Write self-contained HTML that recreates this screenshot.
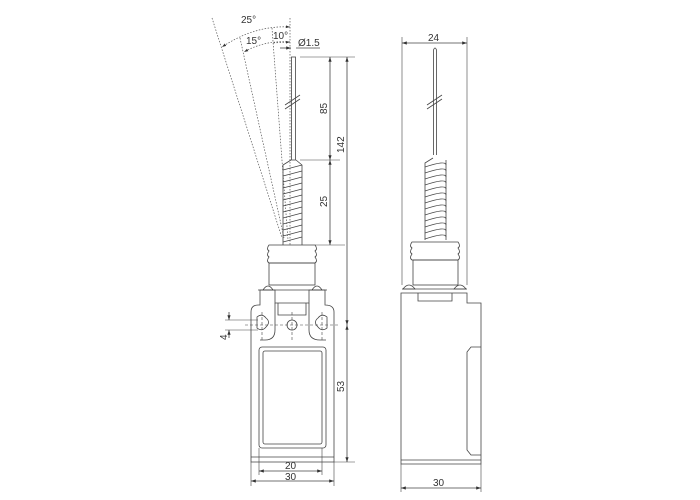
<!DOCTYPE html>
<html><head><style>html,body{margin:0;padding:0;background:#fff}svg{display:block}text{font-family:"Liberation Sans",sans-serif;font-size:10px;fill:#333}</style></head><body>
<svg width="700" height="500" viewBox="0 0 700 500" xmlns="http://www.w3.org/2000/svg">
<defs><marker id="a" viewBox="0 0 6 6" refX="6" refY="3" markerWidth="6" markerHeight="6" orient="auto-start-reverse"><path d="M0,1 L6,3 L0,5z" fill="#333"/></marker></defs>
<g fill="none" stroke="#444" stroke-width="0.8">
<!-- angle lines -->
<g stroke-dasharray="1.5,1.5" stroke="#555" stroke-width="0.7">
<line x1="290" y1="18" x2="290" y2="245"/>
<line x1="272" y1="28" x2="288" y2="240"/>
<line x1="240" y1="38" x2="284" y2="238"/>
<line x1="212" y1="18" x2="282" y2="238"/>
<path d="M290,27 Q255,25 222,47" marker-start="url(#a)" marker-end="url(#a)"/>
<path d="M290,42 Q265,40 244,52" marker-end="url(#a)"/>
<path d="M290,42 L272,43" marker-start="url(#a)"/>
</g>
<!-- Ø1.5 -->
<line x1="280" y1="48" x2="291" y2="48" marker-end="url(#a)"/>
<line x1="296" y1="48" x2="320" y2="48"/>
<!-- rod front -->
<rect x="291.5" y="57" width="4" height="103"/>
<line x1="285" y1="105" x2="300" y2="95"/><line x1="285" y1="109" x2="300" y2="99"/>
<!-- spring front -->
<path d="M283,245 V165 L291,160 M302,245 V165 L296,160"/>
<g stroke-width="0.7">
<path d="M283,170 L302,165 M283,176 L302,171 M283,182 L302,177 M283,188 L302,183 M283,194 L302,189 M283,200 L302,195 M283,206 L302,201 M283,212 L302,207 M283,218 L302,213 M283,224 L302,219 M283,230 L302,225 M283,236 L302,231 M283,242 L302,237"/>
</g>
<!-- bellows front -->
<path d="M269,245 H315 Q318,249 315,251 Q318,255 315,257 Q318,261 315,263 H269 Q266,261 269,257 Q266,255 269,251 Q266,249 269,245z"/>
<rect x="269" y="263" width="46" height="22"/>
<path d="M263,290 Q268,282 273,290z M312,290 Q317,282 322,290z"/>
<line x1="258" y1="290" x2="327" y2="290"/>
<!-- body front -->
<path d="M251,462 V312 Q251,305 258,305 H260 V290 H275 V303 H309 V290 H325 V305 Q334,305 334,312 V462z"/>
<path d="M275,303 V330 Q275,340 265,340 H260 M309,303 V330 Q309,340 320,340 H326"/>
<path d="M278,303 V315 H306 V303"/>
<line x1="251" y1="457" x2="334" y2="457"/>
<rect x="259" y="347" width="67" height="101" rx="3"/>
<rect x="263" y="351" width="59" height="93" rx="2"/>
<path d="M257,317 Q262,313 266,318 Q271,322 266,327 Q262,332 257,328z"/>
<path d="M327,317 Q322,313 318,318 Q313,322 318,327 Q322,332 327,328z"/>
<circle cx="292" cy="325" r="5"/>
<g stroke-dasharray="3,2" stroke-width="0.6"><line x1="245" y1="325" x2="340" y2="325"/><line x1="292" y1="312" x2="292" y2="340"/><line x1="262" y1="312" x2="262" y2="340"/><line x1="322" y1="312" x2="322" y2="340"/></g>
<!-- front dims -->
<line x1="300" y1="57" x2="355" y2="57" stroke-width="0.6"/>
<line x1="300" y1="160" x2="340" y2="160" stroke-width="0.6"/>
<line x1="315" y1="245" x2="345" y2="245" stroke-width="0.6"/>
<line x1="334" y1="462" x2="355" y2="462" stroke-width="0.6"/>
<line x1="330" y1="57" x2="330" y2="160" marker-start="url(#a)" marker-end="url(#a)"/>
<line x1="330" y1="160" x2="330" y2="245" marker-start="url(#a)" marker-end="url(#a)"/>
<line x1="347" y1="57" x2="347" y2="325" marker-start="url(#a)" marker-end="url(#a)"/>
<line x1="347" y1="325" x2="347" y2="462" marker-start="url(#a)" marker-end="url(#a)"/>
<line x1="225" y1="320" x2="258" y2="320" stroke-width="0.6"/>
<line x1="225" y1="330" x2="258" y2="330" stroke-width="0.6"/>
<line x1="229" y1="312" x2="229" y2="320" marker-end="url(#a)"/><line x1="229" y1="338" x2="229" y2="330" marker-end="url(#a)"/>
<line x1="259" y1="448" x2="259" y2="475" stroke-width="0.6"/><line x1="322" y1="448" x2="322" y2="475" stroke-width="0.6"/>
<line x1="251" y1="462" x2="251" y2="486" stroke-width="0.6"/><line x1="334" y1="462" x2="334" y2="486" stroke-width="0.6"/>
<line x1="259" y1="471" x2="322" y2="471" marker-start="url(#a)" marker-end="url(#a)"/>
<line x1="251" y1="481" x2="334" y2="481" marker-start="url(#a)" marker-end="url(#a)"/>
<!-- side view -->
<line x1="402" y1="37" x2="402" y2="285" stroke-width="0.6"/><line x1="467" y1="37" x2="467" y2="285" stroke-width="0.6"/>
<line x1="402" y1="43" x2="467" y2="43" marker-start="url(#a)" marker-end="url(#a)"/>
<path d="M433.5,155 V50 Q435,46 436.5,50 V155"/>
<line x1="427" y1="105" x2="442" y2="95"/><line x1="427" y1="109" x2="442" y2="99"/>
<path d="M425,240 V163 L433,158 M446,240 V160"/>
<path stroke-width="0.7" d="M425,167 Q446,160 446,165 M425,173 Q446,166 446,171 M425,179 Q446,172 446,177 M425,185 Q446,178 446,183 M425,191 Q446,184 446,189 M425,197 Q446,190 446,195 M425,203 Q446,196 446,201 M425,209 Q446,202 446,207 M425,215 Q446,208 446,213 M425,221 Q446,214 446,219 M425,227 Q446,220 446,225 M425,233 Q446,226 446,231 M425,239 Q446,232 446,237"/>
<path d="M412,242 H458 Q461,246 458,248 Q461,252 458,254 Q461,258 458,260 H412 Q409,258 412,254 Q409,252 412,248 Q409,246 412,242z"/>
<rect x="413" y="260" width="45" height="25"/>
<path d="M403,289 Q409,281 415,289z M454,289 Q460,281 466,289z"/>
<line x1="402" y1="289" x2="467" y2="289"/>
<path d="M401,293 H467 V303 H481 V464 H401z"/>
<path d="M418,293 V301 H452 V293"/>
<path d="M481,347 H471 L467,352 V450 L471,455 H481"/>
<line x1="401" y1="460" x2="481" y2="460"/>
<line x1="401" y1="464" x2="401" y2="492" stroke-width="0.6"/><line x1="481" y1="464" x2="481" y2="492" stroke-width="0.6"/>
<line x1="401" y1="488" x2="481" y2="488" marker-start="url(#a)" marker-end="url(#a)"/>
</g>
<text x="241" y="23">25°</text>
<text x="246" y="44">15°</text>
<text x="273" y="39">10°</text>
<text x="298" y="46">Ø1.5</text>
<text transform="translate(327,114) rotate(-90)">85</text>
<text transform="translate(327,207) rotate(-90)">25</text>
<text transform="translate(344,153) rotate(-90)">142</text>
<text transform="translate(344,392) rotate(-90)">53</text>
<text transform="translate(227,340) rotate(-90)">4</text>
<text x="285" y="469">20</text>
<text x="285" y="480">30</text>
<text x="428" y="41">24</text>
<text x="433" y="486">30</text>
</svg>
</body></html>
